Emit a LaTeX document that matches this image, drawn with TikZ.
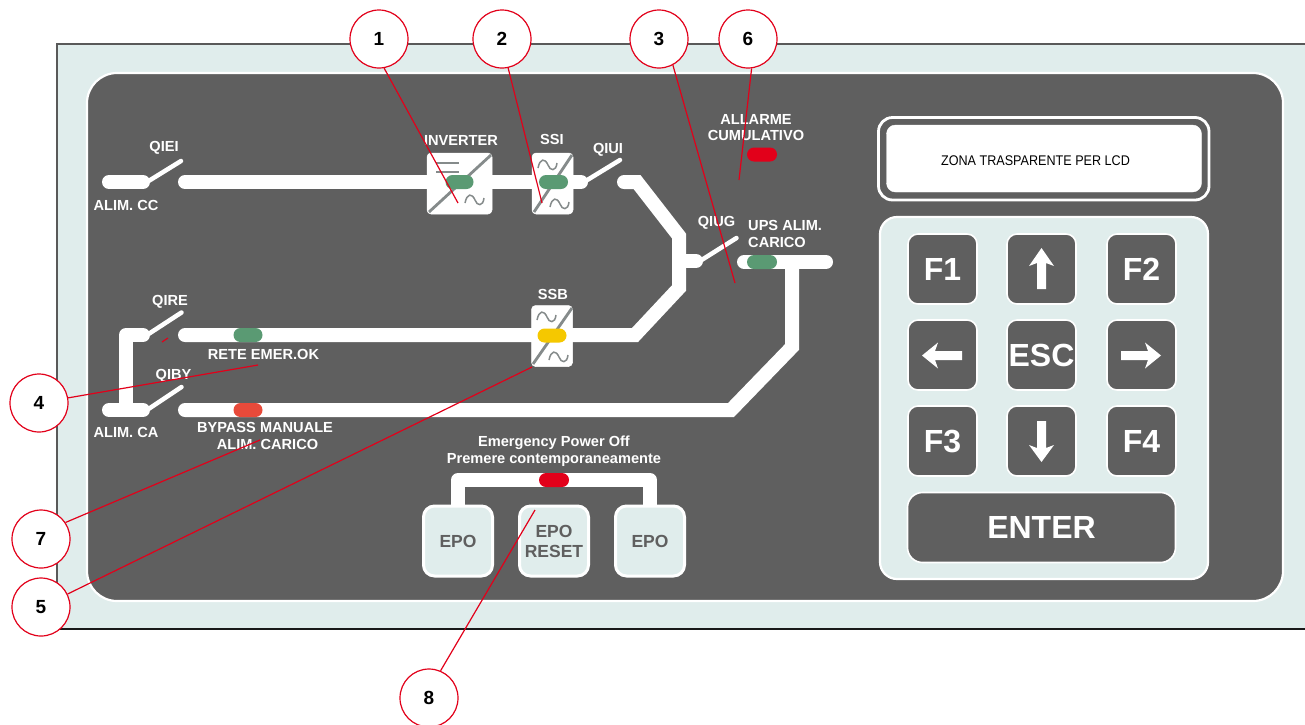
\documentclass[tikz,border=0pt]{standalone}
\usepackage{fontspec}
\setmainfont{Liberation Sans}
\usetikzlibrary{shapes.misc}
\definecolor{pale}{HTML}{E0EDEC}
\definecolor{dark}{HTML}{5F5F5F}
\definecolor{leadred}{HTML}{E2001A}
\definecolor{ledgreen}{HTML}{5A9A73}
\definecolor{ledred}{HTML}{E2001A}
\definecolor{ledorange}{HTML}{E84A3A}
\definecolor{ledyellow}{HTML}{F5C800}
\definecolor{symgray}{HTML}{858B8B}
\newcommand{\sinewave}[2]{\draw[sym] (#1,#2+8) .. controls (#1+2,#2-2) and (#1+7,#2-2) .. (#1+10,#2+5) .. controls (#1+12,#2+11) and (#1+18,#2+12) .. (#1+19,#2+3);}
\tikzset{
 x=1pt,y=-1pt,
 bus/.style={draw=white,line width=14pt,line cap=round,line join=miter},
 swblade/.style={draw=white,line width=4.5pt,line cap=round},
 lbl/.style={text=white,font=\bfseries\fontsize{14.6}{16.7}\selectfont,align=center,inner sep=0pt},
 ledn/.style={rounded rectangle,minimum width=#1,minimum height=14pt,inner sep=0pt,rounded rectangle arc length=180},
 callout/.style={circle,draw=leadred,line width=1.2pt,fill=white,minimum size=58pt,inner sep=0pt,font=\bfseries\fontsize{19}{21}\selectfont},
 lead/.style={draw=leadred,line width=1.2pt},
 conv/.style={draw=white,fill=white,rounded corners=4pt,line width=0.5pt,inner sep=0pt},
 sym/.style={draw=symgray,line width=1.5pt},
 symd/.style={draw=symgray,line width=2.8pt},
 keyn/.style={draw=white,fill=dark,line width=1.6pt,rounded corners=10pt,minimum width=69pt,minimum height=70pt,inner sep=0pt,text=white,font=\bfseries\fontsize{32}{36}\selectfont},
 epon/.style={draw=white,fill=pale,line width=3pt,rounded corners=11pt,minimum width=69pt,minimum height=70pt,inner sep=0pt,text=dark,align=center,font=\bfseries\fontsize{17.5}{20}\selectfont},
}
\begin{document}
\begin{tikzpicture}
\useasboundingbox (0,0) rectangle (1305,724);
\fill[white] (0,0) rectangle (1305,724);
% panel
\fill[pale] (57,44) rectangle (1305,629);
\draw[black!65,line width=1.4pt] (1305,44) -- (57,44) -- (57,629);
\draw[black!90,line width=1.3pt] (57,629) -- (1305,629);
\draw[white,fill=dark,line width=2.2pt,rounded corners=30pt] (87,73) rectangle (1283,601);
% busbars
\draw[bus] (109,182) -- (143,182);
\draw[swblade] (147,182) -- (181,161);
\draw[bus] (185,182) -- (581,182);
\draw[swblade] (584,182) -- (620,160);
\draw[bus] (624,182) -- (637,182) -- (679,236) -- (679,288) -- (635,335) -- (185,335);
\draw[bus] (679,261) -- (696,261);
\draw[swblade] (700,261) -- (736.5,238);
\draw[bus] (744,262) -- (826,262);
\draw[bus] (792,262) -- (792,347) -- (731,410) -- (185,410);
\draw[bus] (109,410) -- (143,410);
\draw[bus,line join=round] (126,410) -- (126,335) -- (143,335);
\draw[swblade] (147,335) -- (181.5,312.5);
\draw[swblade] (147,410) -- (181.5,387);
\draw[bus,line cap=butt,line join=round] (458,510) -- (458,480) -- (650,480) -- (650,510);
% inverter
\node[conv,minimum width=65pt,minimum height=61pt] (inv) at (459.5,183.5) {};
\draw[sym] (436,163) -- (459,163) (436,172) -- (459,172);
\draw[symd] (429,212) -- (491,155);
\sinewave{465}{195}
% SSI
\node[conv,minimum width=41pt,minimum height=61pt] (ssi) at (552.5,183.5) {};
\draw[symd] (534,212) -- (572,155);
\sinewave{538}{160}
\sinewave{550}{199}
% SSB
\node[conv,minimum width=41pt,minimum height=61pt] (ssb) at (552,336) {};
\draw[symd] (533,364) -- (572,308);
\sinewave{537}{312}
\sinewave{549}{352}
% LEDs
\node[ledn=28pt,fill=ledgreen] (ledinv) at (459.5,182) {};
\node[ledn=29pt,fill=ledgreen] (ledssi) at (553.5,182) {};
\node[ledn=29pt,fill=ledyellow] (ledssb) at (552,335.5) {};
\node[ledn=30pt,fill=ledgreen] (ledups) at (762,262) {};
\node[ledn=30pt,fill=ledred] (ledall) at (762,154.5) {};
\node[ledn=29pt,fill=ledgreen] (ledrete) at (248,335) {};
\node[ledn=29pt,fill=ledorange] (ledbyp) at (248,410) {};
\node[ledn=30pt,fill=ledred] (ledepo) at (554,480) {};
% labels
\node[lbl] (tqiei) at (164,148) {QIEI};
\node[lbl] (talcc) at (126,205) {ALIM. CC};
\node[lbl] (tinv) at (461,140.5) {INVERTER};
\node[lbl] (tssi) at (552,139) {SSI};
\node[lbl] (tqiui) at (608,150) {QIUI};
\node[lbl] (tqiug) at (716.5,223) {QIUG};
\node[lbl,align=left,anchor=west] (tups) at (748,234) {UPS ALIM.\\CARICO};
\node[lbl] (tall) at (756,127.5) {ALLARME\\CUMULATIVO};
\node[lbl] (tqire) at (170,302) {QIRE};
\node[lbl] (tqiby) at (173.5,376) {QIBY};
\node[lbl] (trete) at (263.5,354) {RETE EMER.OK};
\node[lbl] (tbyp) at (265,436) {BYPASS MANUALE\\\hspace*{5pt}ALIM. CARICO};
\node[lbl] (talca) at (126,432) {ALIM. CA};
\node[lbl] (tssb) at (553,294) {SSB};
\node[lbl] (tepo) at (554,451.5) {Emergency Power Off\\Premere contemporaneamente};
% EPO buttons
\node[epon] (epo1) at (458,541) {EPO};
\node[epon] (epo2) at (554,541) {EPO\\RESET};
\node[epon] (epo3) at (650,541) {EPO};
% LCD
\draw[white,line width=2.8pt,rounded corners=14pt] (878.5,117.5) rectangle (1209,200);
\node[fill=white,draw=white,rounded corners=9pt,minimum width=315pt,minimum height=67pt,inner sep=0pt] (lcd) at (1044,158.5) {};
\node[inner sep=0pt,text=black,font=\fontsize{14}{16}\selectfont] (lcdt) at (1035.5,160.5) {\scalebox{0.9}[1]{ZONA TRASPARENTE PER LCD}};
% keypad
\draw[white,fill=pale,line width=2.2pt,rounded corners=17pt] (880,217) rectangle (1208,579);
\node[keyn] (kf1) at (942.5,269) {F1};
\node[keyn] (kup) at (1041.5,269) {};
\node[keyn] (kf2) at (1141.5,269) {F2};
\node[keyn] (kleft) at (942.5,355) {};
\node[keyn] (kesc) at (1041.5,355) {ESC};
\node[keyn] (kright) at (1141.5,355) {};
\node[keyn] (kf3) at (942.5,441) {F3};
\node[keyn] (kdown) at (1041.5,441) {};
\node[keyn] (kf4) at (1141.5,441) {F4};
\node[keyn,minimum width=268pt,rounded corners=15pt] (kenter) at (1041.5,527.5) {ENTER};
% key arrows
\fill[white] (1041.5,248) -- (1054,266) -- (1046,263) -- (1046,289) -- (1037,289) -- (1037,263) -- (1029,266) -- cycle;
\fill[white] (1041.5,462) -- (1054,445) -- (1046,448) -- (1046,421) -- (1037,421) -- (1037,448) -- (1029,445) -- cycle;
\fill[white] (922,355.5) -- (938,342.5) -- (935,351) -- (962,351) -- (962,360) -- (935,360) -- (938,368.5) -- cycle;
\fill[white] (1161,355.5) -- (1145,342.5) -- (1148,351) -- (1121,351) -- (1121,360) -- (1148,360) -- (1145,368.5) -- cycle;
% callouts
\coordinate (e1) at (458,203);
\coordinate (e2) at (542,203);
\coordinate (e3) at (735,283);
\coordinate (e6) at (739,180);
\coordinate (e4) at (258,365);
\coordinate (e7) at (260,440);
\coordinate (e5) at (532,367);
\coordinate (e8) at (535,510);
\coordinate (t1) at (162,342);
\coordinate (t2) at (168,338);
\draw[lead] (t1) -- (t2);
\node[callout] (c1) at (379,39) {1};
\node[callout] (c2) at (502,39) {2};
\node[callout] (c3) at (659,39) {3};
\node[callout] (c6) at (748,39) {6};
\node[callout] (c4) at (39,403) {4};
\node[callout] (c7) at (41,539) {7};
\node[callout] (c5) at (41,607) {5};
\node[callout] (c8) at (429,698) {8};
\draw[lead] (c1.-80) -- (e1);
\draw[lead] (c2.-78) -- (e2);
\draw[lead] (c3.-62) -- (e3);
\draw[lead] (c6.-83) -- (e6);
\draw[lead] (c4.10) -- (e4);
\draw[lead] (c7.34) -- (e7);
\draw[lead] (c5) -- (e5);
\draw[lead] (c8.67) -- (e8);
\end{tikzpicture}
\end{document}
